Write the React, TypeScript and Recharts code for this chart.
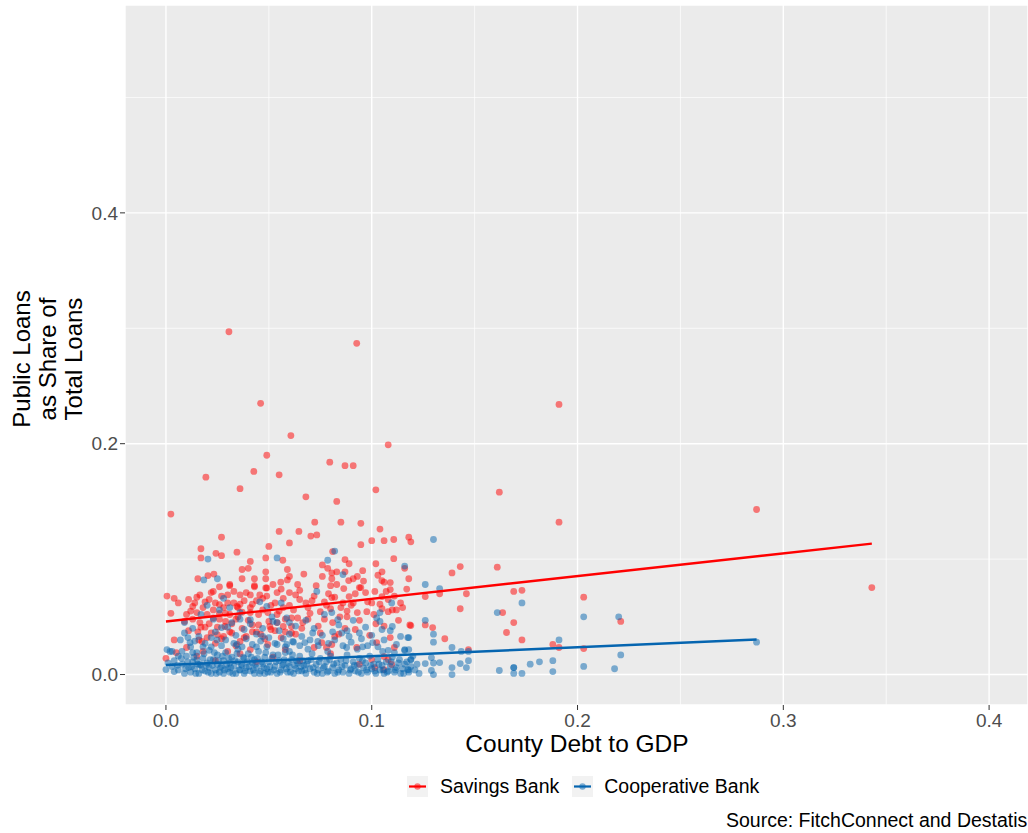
import React from "react";
import {
  ScatterChart,
  Scatter,
  XAxis,
  YAxis,
  CartesianGrid,
  ReferenceLine,
} from "recharts";

// axis setup
const X_DOMAIN: [number, number] = [-0.0199, 0.4189];
const Y_DOMAIN: [number, number] = [-0.0264, 0.5801];
const xTicks = [0, 0.1, 0.2, 0.3, 0.4];
const yTicks = [0, 0.2, 0.4];
const xMinor = [0.05, 0.15, 0.25, 0.35];
const yMinor = [0.1, 0.3, 0.5];

// Savings banks: [debt/GDP, public loan share]
const savingsPts: [number, number][] = [
  [0.0306, 0.297], [0.0927, 0.287], [0.046, 0.235], [0.191, 0.234], [0.0607, 0.207],
  [0.049, 0.19], [0.108, 0.199], [0.0427, 0.176], [0.0194, 0.171], [0.0796, 0.184],
  [0.087, 0.181], [0.091, 0.181], [0.055, 0.173], [0.036, 0.161], [0.102, 0.16],
  [0.162, 0.158], [0.0024, 0.139], [0.068, 0.154], [0.083, 0.15], [0.287, 0.143],
  [0.191, 0.132], [0.343, 0.0753], [0.203, 0.067], [0.221, 0.046],
  [0.118, 0.119], [0.119, 0.115], [0.116, 0.092], [0.118, 0.083], [0.139, 0.088],
  [0.143, 0.0935], [0.161, 0.093], [0.126, 0.0675], [0.133, 0.07], [0.146, 0.07],
  [0.143, 0.057], [0.169, 0.072], [0.173, 0.073], [0.1636, 0.0537], [0.169, 0.045],
  [0.1655, 0.0364], [0.173, 0.03], [0.119, 0.0424], [0.126, 0.043], [0.1296, 0.0407],
  [0.1355, 0.031], [0.188, 0.026], [0.191, 0.0234], [0.203, 0.0225], [0.147, 0.0216],
  [0.055, 0.124], [0.027, 0.119], [0.017, 0.109], [0.0243, 0.105], [0.0345, 0.106],
  [0.05, 0.111], [0.017, 0.101], [0.027, 0.103], [0.041, 0.098], [0.0485, 0.101],
  [0.0568, 0.099], [0.037, 0.091], [0.04, 0.092], [0.059, 0.091], [0.0485, 0.089],
  [0.0155, 0.083], [0.0204, 0.0857], [0.0233, 0.087], [0.037, 0.083], [0.0485, 0.083],
  [0.0558, 0.08], [0.043, 0.077], [0.031, 0.077], [0.0485, 0.075],
  [0.0723, 0.132], [0.085, 0.132], [0.0947, 0.131], [0.0646, 0.124], [0.104, 0.126],
  [0.0704, 0.12], [0.0733, 0.121], [0.06, 0.114], [0.1, 0.116], [0.106, 0.116],
  [0.1107, 0.117], [0.0947, 0.1125], [0.081, 0.1065], [0.087, 0.0996], [0.1107, 0.1004],
  [0.102, 0.096], [0.0786, 0.092], [0.0956, 0.09], [0.105, 0.089], [0.06, 0.085],
  [0.076, 0.085], [0.0806, 0.088], [0.083, 0.089], [0.087, 0.089], [0.091, 0.083],
  [0.0888, 0.0814], [0.0806, 0.083], [0.08, 0.077], [0.0864, 0.0745], [0.0947, 0.0753],
  [0.1049, 0.0814], [0.106, 0.08], [0.109, 0.0797],
  [0.0005, 0.068], [0.004, 0.066], [0.006, 0.062], [0.0024, 0.053], [0.004, 0.03],
  [0.0, 0.014], [0.011, 0.065], [0.013, 0.059], [0.0165, 0.069], [0.022, 0.071],
  [0.026, 0.076], [0.031, 0.078], [0.036, 0.069], [0.041, 0.069], [0.0456, 0.069],
  [0.043, 0.076], [0.049, 0.075], [0.054, 0.071], [0.026, 0.0606], [0.0345, 0.059],
  [0.015, 0.0537], [0.0165, 0.045], [0.023, 0.049], [0.0286, 0.0416], [0.035, 0.05],
  [0.041, 0.0537], [0.042, 0.043], [0.0495, 0.0537], [0.057, 0.058], [0.054, 0.045],
  [0.0155, 0.037], [0.02, 0.032], [0.0175, 0.0286], [0.025, 0.0346], [0.031, 0.037],
  [0.036, 0.0286], [0.039, 0.033], [0.044, 0.037], [0.0505, 0.0416], [0.057, 0.0416],
  [0.056, 0.032], [0.03, 0.02], [0.01, 0.0234], [0.018, 0.02], [0.041, 0.0216],
  [0.0495, 0.026], [0.058, 0.0216],
  [0.06, 0.071], [0.065, 0.065], [0.069, 0.058], [0.075, 0.0545], [0.077, 0.063],
  [0.0806, 0.0667], [0.086, 0.062], [0.089, 0.0675], [0.094, 0.0753], [0.0976, 0.0545],
  [0.093, 0.0537], [0.1015, 0.072], [0.105, 0.0675], [0.109, 0.0736], [0.11, 0.056],
  [0.108, 0.0545], [0.0845, 0.05], [0.088, 0.05], [0.092, 0.039], [0.082, 0.033],
  [0.0806, 0.026], [0.078, 0.0234], [0.0927, 0.0234], [0.1024, 0.0277], [0.111, 0.0234],
  [0.106, 0.0156], [0.1185, 0.043], [0.061, 0.0416], [0.064, 0.049], [0.0665, 0.045],
  [0.061, 0.036], [0.0757, 0.0277], [0.072, 0.0234], [0.1015, 0.006], [0.106, 0.0043],
  [0.1097, 0.0087], [0.108, 0.013],
  [0.009, 0.046], [0.011, 0.038], [0.012, 0.055], [0.014, 0.062], [0.016, 0.03],
  [0.018, 0.058], [0.019, 0.041], [0.021, 0.065], [0.022, 0.036], [0.023, 0.056],
  [0.024, 0.027], [0.026, 0.048], [0.027, 0.068], [0.028, 0.033], [0.029, 0.053],
  [0.03, 0.062], [0.032, 0.044], [0.033, 0.072], [0.034, 0.025], [0.035, 0.058],
  [0.037, 0.04], [0.038, 0.064], [0.04, 0.047], [0.042, 0.061], [0.043, 0.083],
  [0.045, 0.052], [0.046, 0.035], [0.047, 0.066], [0.05, 0.046], [0.051, 0.06],
  [0.052, 0.078], [0.053, 0.038], [0.055, 0.055], [0.057, 0.066], [0.058, 0.048],
  [0.059, 0.082], [0.062, 0.056], [0.063, 0.069], [0.064, 0.078], [0.066, 0.04],
  [0.067, 0.087], [0.069, 0.048], [0.071, 0.064], [0.073, 0.077], [0.074, 0.042],
  [0.076, 0.095], [0.078, 0.06], [0.079, 0.07], [0.081, 0.045], [0.083, 0.078],
  [0.085, 0.058], [0.087, 0.04], [0.089, 0.096], [0.09, 0.06], [0.092, 0.07],
  [0.094, 0.047], [0.096, 0.081], [0.098, 0.063], [0.099, 0.034], [0.101, 0.052],
  [0.103, 0.086], [0.104, 0.061], [0.106, 0.042], [0.107, 0.072], [0.109, 0.032],
  [0.111, 0.068], [0.113, 0.047], [0.115, 0.058], [0.117, 0.074],
  [0.005, 0.019], [0.015, 0.016], [0.024, 0.012], [0.036, 0.018], [0.044, 0.011],
  [0.052, 0.015], [0.065, 0.012], [0.08, 0.018], [0.094, 0.009], [0.1, 0.013],
  [0.01, 0.052], [0.013, 0.048], [0.015, 0.067], [0.017, 0.041], [0.019, 0.063],
  [0.02, 0.052], [0.021, 0.044], [0.023, 0.072], [0.024, 0.062], [0.025, 0.041],
  [0.026, 0.053], [0.027, 0.031], [0.028, 0.058], [0.029, 0.046], [0.03, 0.069],
  [0.031, 0.052], [0.032, 0.036], [0.033, 0.062], [0.034, 0.048], [0.036, 0.061],
  [0.037, 0.054], [0.038, 0.032], [0.039, 0.071], [0.041, 0.058], [0.042, 0.037],
  [0.044, 0.064], [0.045, 0.043], [0.047, 0.056], [0.048, 0.031], [0.049, 0.068],
  [0.051, 0.039], [0.053, 0.062], [0.054, 0.052], [0.056, 0.074], [0.058, 0.037],
  [0.06, 0.06], [0.061, 0.049], [0.063, 0.035], [0.065, 0.073], [0.068, 0.062],
  [0.07, 0.053], [0.072, 0.068], [0.075, 0.036], [0.077, 0.048], [0.08, 0.057],
  [0.082, 0.067], [0.084, 0.035], [0.088, 0.055], [0.091, 0.062], [0.093, 0.085],
  [0.097, 0.071], [0.1, 0.062], [0.102, 0.044], [0.105, 0.057], [0.108, 0.065],
  [0.112, 0.056], [0.114, 0.062],
];

// Cooperative banks
const coopPts: [number, number][] = [
  [0.0204, 0.1], [0.054, 0.101], [0.0184, 0.082], [0.025, 0.083], [0.082, 0.107],
  [0.0786, 0.099], [0.086, 0.0866], [0.116, 0.094], [0.13, 0.117],
  [0.126, 0.078], [0.133, 0.0745], [0.173, 0.062], [0.161, 0.0537], [0.203, 0.05],
  [0.22, 0.05], [0.126, 0.047], [0.118, 0.032], [0.13, 0.035], [0.13, 0.028],
  [0.191, 0.03], [0.287, 0.028], [0.139, 0.0234], [0.1435, 0.02], [0.147, 0.02],
  [0.116, 0.0208], [0.118, 0.0216], [0.119, 0.013], [0.221, 0.017], [0.129, 0.0147],
  [0.126, 0.0095], [0.133, 0.0104], [0.13, 0.01], [0.143, 0.0095], [0.147, 0.012],
  [0.146, 0.006], [0.139, 0.006], [0.118, 0.004], [0.129, 0.0035], [0.13, 0.0],
  [0.139, 0.0], [0.162, 0.0035], [0.169, 0.006], [0.169, 0.006], [0.169, 0.001],
  [0.173, 0.001], [0.177, 0.009], [0.1815, 0.011], [0.188, 0.012], [0.188, 0.0026],
  [0.203, 0.007], [0.218, 0.005],
  [0.0005, 0.0216], [0.002, 0.02], [0.0, 0.0043], [0.004, 0.0026], [0.001, 0.01],
  [0.003, 0.007], [0.009, 0.036], [0.0107, 0.032], [0.0078, 0.02], [0.0117, 0.0277],
  [0.013, 0.019], [0.015, 0.013], [0.0165, 0.0087], [0.032, 0.045], [0.038, 0.039],
  [0.036, 0.0537], [0.041, 0.0476], [0.0456, 0.063], [0.049, 0.059], [0.0515, 0.05],
  [0.054, 0.045], [0.056, 0.062], [0.0587, 0.049], [0.047, 0.033], [0.027, 0.0407],
  [0.0248, 0.03], [0.022, 0.024], [0.0345, 0.026], [0.044, 0.024], [0.054, 0.026],
  [0.0587, 0.026], [0.018, 0.024],
  [0.0733, 0.072], [0.104, 0.0537], [0.1024, 0.049], [0.1097, 0.062], [0.11, 0.0416],
  [0.105, 0.039], [0.1175, 0.032], [0.116, 0.0216], [0.119, 0.013], [0.1175, 0.0043],
  [0.0806, 0.0537], [0.0835, 0.0476], [0.081, 0.037], [0.0854, 0.036], [0.089, 0.033],
  [0.094, 0.036], [0.0713, 0.036], [0.0675, 0.0277], [0.0616, 0.0286], [0.0738, 0.0286],
  [0.0786, 0.02], [0.0878, 0.0234], [0.0956, 0.024], [0.1005, 0.0277], [0.06, 0.045],
  [0.06, 0.02], [0.111, 0.019], [0.1053, 0.02],
  [0.004, 0.012], [0.006, 0.004], [0.008, 0.009], [0.009, 0.001], [0.01, 0.016],
  [0.011, 0.006], [0.012, 0.002], [0.013, 0.011], [0.014, 0.005], [0.015, 0.019],
  [0.016, 0.001], [0.017, 0.008], [0.018, 0.014], [0.019, 0.003], [0.02, 0.01],
  [0.021, 0.006], [0.021, 0.021], [0.022, 0.001], [0.023, 0.013], [0.024, 0.004],
  [0.025, 0.009], [0.025, 0.017], [0.026, 0.002], [0.027, 0.007], [0.028, 0.012],
  [0.028, 0.001], [0.029, 0.019], [0.03, 0.005], [0.031, 0.01], [0.031, 0.002],
  [0.032, 0.015], [0.033, 0.007], [0.034, 0.001], [0.035, 0.011], [0.035, 0.022],
  [0.036, 0.004], [0.037, 0.008], [0.038, 0.014], [0.038, 0.001], [0.039, 0.006],
  [0.04, 0.018], [0.041, 0.003], [0.042, 0.01], [0.043, 0.001], [0.043, 0.013],
  [0.044, 0.006], [0.045, 0.02], [0.046, 0.003], [0.047, 0.009], [0.048, 0.001],
  [0.048, 0.015], [0.049, 0.005], [0.05, 0.011], [0.051, 0.002], [0.052, 0.017],
  [0.053, 0.007], [0.054, 0.001], [0.055, 0.012], [0.056, 0.004], [0.057, 0.009],
  [0.058, 0.019], [0.059, 0.002], [0.06, 0.007], [0.061, 0.013], [0.062, 0.001],
  [0.063, 0.005], [0.064, 0.01], [0.065, 0.016], [0.066, 0.003], [0.067, 0.008],
  [0.068, 0.001], [0.069, 0.012], [0.07, 0.005], [0.071, 0.018], [0.072, 0.002],
  [0.073, 0.009], [0.074, 0.004], [0.075, 0.014], [0.076, 0.001], [0.077, 0.007],
  [0.078, 0.011], [0.079, 0.003], [0.08, 0.016], [0.081, 0.006], [0.082, 0.001],
  [0.083, 0.01], [0.084, 0.004], [0.085, 0.013], [0.086, 0.002], [0.087, 0.008],
  [0.088, 0.017], [0.089, 0.001], [0.09, 0.005], [0.091, 0.011], [0.092, 0.003],
  [0.093, 0.008], [0.094, 0.014], [0.095, 0.001], [0.096, 0.006], [0.097, 0.01],
  [0.098, 0.002], [0.099, 0.016], [0.1, 0.005], [0.101, 0.009], [0.102, 0.001],
  [0.103, 0.013], [0.104, 0.004], [0.105, 0.008], [0.106, 0.001], [0.107, 0.011],
  [0.108, 0.003], [0.109, 0.007], [0.11, 0.015], [0.111, 0.002], [0.112, 0.006],
  [0.113, 0.01], [0.114, 0.001], [0.115, 0.005], [0.116, 0.009], [0.118, 0.002],
  [0.119, 0.007], [0.121, 0.004], [0.123, 0.001],
  [0.012, 0.024], [0.014, 0.029], [0.016, 0.033], [0.019, 0.027], [0.022, 0.032],
  [0.024, 0.037], [0.027, 0.025], [0.029, 0.03], [0.03, 0.041], [0.033, 0.027],
  [0.034, 0.034], [0.036, 0.048], [0.037, 0.024], [0.039, 0.031], [0.041, 0.044],
  [0.042, 0.026], [0.044, 0.035], [0.046, 0.029], [0.047, 0.04], [0.049, 0.024],
  [0.05, 0.032], [0.052, 0.046], [0.053, 0.027], [0.055, 0.038], [0.057, 0.031],
  [0.058, 0.024], [0.06, 0.035], [0.062, 0.028], [0.063, 0.042], [0.065, 0.025],
  [0.066, 0.033], [0.068, 0.047], [0.069, 0.022], [0.07, 0.03], [0.072, 0.04],
  [0.074, 0.025], [0.076, 0.034], [0.077, 0.052], [0.079, 0.027], [0.082, 0.03],
  [0.084, 0.043], [0.086, 0.025], [0.088, 0.038], [0.09, 0.028], [0.091, 0.047],
  [0.093, 0.022], [0.095, 0.031], [0.097, 0.041], [0.098, 0.025], [0.1, 0.034],
  [0.103, 0.024], [0.104, 0.046], [0.106, 0.03], [0.108, 0.021], [0.109, 0.038],
  [0.112, 0.026], [0.114, 0.033],
  [0.003, 0.02], [0.007, 0.03], [0.009, 0.045], [0.013, 0.04], [0.017, 0.052],
  [0.02, 0.06], [0.023, 0.048], [0.026, 0.056], [0.028, 0.066], [0.031, 0.058],
  [0.006, 0.016],
  [0.0055, 0.008], [0.0075, 0.014], [0.0095, 0.005], [0.0105, 0.011], [0.0125, 0.007],
  [0.0135, 0.015], [0.0145, 0.001], [0.0155, 0.009], [0.0175, 0.004], [0.0185, 0.018],
  [0.0195, 0.008], [0.0205, 0.002], [0.0215, 0.013], [0.0225, 0.008], [0.0235, 0.019],
  [0.0245, 0.001], [0.0255, 0.012], [0.0265, 0.006], [0.0275, 0.016], [0.0285, 0.004],
  [0.0295, 0.009], [0.0305, 0.014], [0.0315, 0.006], [0.0325, 0.001], [0.0335, 0.012],
  [0.0345, 0.018], [0.0355, 0.004], [0.0365, 0.009], [0.0375, 0.015], [0.0385, 0.003],
  [0.0395, 0.011], [0.0405, 0.007], [0.0415, 0.015], [0.0425, 0.004], [0.0435, 0.009],
  [0.0445, 0.014], [0.0455, 0.001], [0.0465, 0.011], [0.0475, 0.006], [0.0485, 0.019],
  [0.0495, 0.002], [0.0505, 0.007], [0.0515, 0.014], [0.0525, 0.004], [0.0535, 0.011],
  [0.0545, 0.017], [0.0555, 0.002], [0.0565, 0.008], [0.0575, 0.013], [0.0585, 0.005],
  [0.0595, 0.01], [0.0605, 0.002], [0.0615, 0.017], [0.0625, 0.008], [0.0635, 0.012],
  [0.0645, 0.003], [0.0655, 0.007], [0.0665, 0.012], [0.0675, 0.004], [0.0685, 0.009],
  [0.0705, 0.013], [0.0715, 0.006], [0.0735, 0.001], [0.0745, 0.011], [0.0765, 0.006],
  [0.0785, 0.002], [0.0795, 0.013], [0.0815, 0.009], [0.0835, 0.002], [0.0855, 0.007],
  [0.0875, 0.012], [0.0895, 0.004], [0.0915, 0.008], [0.0935, 0.002], [0.0955, 0.012],
  [0.0975, 0.004], [0.0995, 0.008], [0.1015, 0.003], [0.1035, 0.009], [0.1055, 0.004],
  [0.1075, 0.002], [0.1095, 0.011], [0.1115, 0.004], [0.1135, 0.013], [0.1155, 0.001],
  [0.117, 0.011], [0.12, 0.016], [0.122, 0.009],
];

// linear fits (end points)
const savingsFit: [number, number][] = [[0, 0.0459], [0.343, 0.1134]];
const coopFit: [number, number][] = [[0, 0.0082], [0.287, 0.0303]];

const RED = "#FF0000";
const BLUE = "#0565B0";

const toRows = (pts: [number, number][]) => pts.map(([x, y]) => ({ x, y }));

const dot = (color: string) => (p: any) =>
  <circle cx={p.cx} cy={p.cy} r={3.4} fill={color} fillOpacity={0.5} />;

const fmt = (v: number) => v.toFixed(1);

const FONT = '"Liberation Sans", Arial, Helvetica, sans-serif';

function LegendKey({ color }: { color: string }) {
  return (
    <svg width={21} height={21} style={{ background: "#F2F2F2", display: "block" }}>
      <line x1={2} y1={10.5} x2={19} y2={10.5} stroke={color} strokeWidth={2.2} />
      <circle cx={10.5} cy={10.5} r={3.2} fill={color} fillOpacity={0.5} />
    </svg>
  );
}

export default function App() {
  return (
    <div
      style={{
        position: "absolute",
        left: 0,
        top: 0,
        width: 1028,
        height: 833,
        overflow: "hidden",
        background: "#fff",
        fontFamily: FONT,
      }}
    >
      <ScatterChart
        width={1028}
        height={833}
        margin={{ top: 5, right: 0, bottom: 96, left: 85 }}
      >
        <CartesianGrid stroke="#FFFFFF" strokeWidth={1.4} fill="#EBEBEB" fillOpacity={1} />
        {xMinor.map((v) => (
          <ReferenceLine key={"xm" + v} x={v} stroke="#FFFFFF" strokeWidth={0.7} />
        ))}
        {yMinor.map((v) => (
          <ReferenceLine key={"ym" + v} y={v} stroke="#FFFFFF" strokeWidth={0.7} />
        ))}
        <XAxis
          type="number"
          dataKey="x"
          domain={X_DOMAIN}
          ticks={xTicks}
          tickFormatter={fmt}
          allowDataOverflow
          height={32}
          axisLine={false}
          tickSize={5}
          tickMargin={4}
          tickLine={{ stroke: "#333333" }}
          tick={{ fill: "#4D4D4D", fontSize: 19, fontFamily: FONT }}
        />
        <YAxis
          type="number"
          dataKey="y"
          domain={Y_DOMAIN}
          ticks={yTicks}
          tickFormatter={fmt}
          allowDataOverflow
          width={40}
          axisLine={false}
          tickSize={5}
          tickMargin={2}
          tickLine={{ stroke: "#333333" }}
          tick={{ fill: "#4D4D4D", fontSize: 19, fontFamily: FONT }}
        />
        <Scatter
          name="Savings Bank"
          data={toRows(savingsPts)}
          shape={dot(RED)}
          isAnimationActive={false}
        />
        <Scatter
          name="Cooperative Bank"
          data={toRows(coopPts)}
          shape={dot(BLUE)}
          isAnimationActive={false}
        />
        <Scatter
          data={toRows(savingsFit)}
          line={{ stroke: RED, strokeWidth: 2.4 }}
          shape={() => <g />}
          isAnimationActive={false}
        />
        <Scatter
          data={toRows(coopFit)}
          line={{ stroke: BLUE, strokeWidth: 2.4 }}
          shape={() => <g />}
          isAnimationActive={false}
        />
      </ScatterChart>

      {/* y axis title */}
      <div
        style={{
          position: "absolute",
          left: 49 - 100,
          top: 359 - 40,
          width: 200,
          height: 80,
          transform: "rotate(-90deg)",
          textAlign: "center",
          fontSize: 24,
          lineHeight: "26px",
          color: "#000",
        }}
      >
        Public Loans
        <br />
        as Share of
        <br />
        Total Loans
      </div>

      {/* x axis title */}
      <div
        style={{
          position: "absolute",
          left: 377,
          width: 400,
          top: 729,
          textAlign: "center",
          fontSize: 24.5,
          lineHeight: "30px",
          color: "#000",
        }}
      >
        County Debt to GDP
      </div>

      {/* legend */}
      <div
        style={{
          position: "absolute",
          left: 407,
          top: 776,
          display: "flex",
          alignItems: "center",
          fontSize: 19.5,
          lineHeight: "21px",
          color: "#000",
        }}
      >
        <LegendKey color={RED} />
        <span style={{ marginLeft: 12, marginRight: 13 }}>Savings Bank</span>
        <LegendKey color={BLUE} />
        <span style={{ marginLeft: 11 }}>Cooperative Bank</span>
      </div>

      {/* caption */}
      <div
        style={{
          position: "absolute",
          left: 726,
          top: 808,
          fontSize: 19.5,
          lineHeight: "24px",
          whiteSpace: "nowrap",
          color: "#000",
        }}
      >
        Source: FitchConnect and Destatis
      </div>
    </div>
  );
}
